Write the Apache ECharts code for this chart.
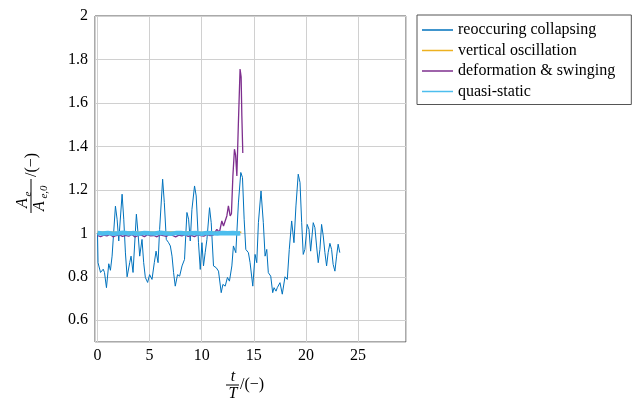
<!DOCTYPE html>
<html>
<head>
<meta charset="utf-8">
<script src="https://cdn.jsdelivr.net/npm/echarts@6/dist/echarts.min.js"></script>
<style>html,body{margin:0;padding:0;background:#fff}#c{width:640px;height:407px}</style>
</head>
<body>
<div id="c"></div>
<script>
// ---- data ----
var seriesNames = ['reoccuring collapsing', 'vertical oscillation', 'deformation & swinging', 'quasi-static'];

var collapseT = [0.00,0.05,0.29,0.55,0.67,0.86,1.08,1.24,1.40,1.72,1.88,2.04,2.36,2.52,2.68,2.84,3.09,3.22,3.41,3.73,3.89,4.05,4.27,4.43,4.59,4.81,5.00,5.23,5.45,5.62,5.81,5.96,6.25,6.41,6.60,6.82,6.99,7.15,7.30,7.46,7.68,7.88,8.11,8.35,8.58,8.74,8.90,9.06,9.31,9.47,9.69,9.86,10.02,10.17,10.33,10.50,10.75,10.91,11.13,11.39,11.61,11.87,12.03,12.25,12.47,12.66,12.89,13.04,13.27,13.52,13.75,13.91,14.07,14.23,14.48,14.64,14.90,15.12,15.28,15.44,15.69,15.91,16.08,16.24,16.39,16.62,16.81,16.94,17.13,17.25,17.51,17.73,17.99,18.21,18.40,18.63,18.85,19.04,19.26,19.43,19.59,19.74,19.90,20.12,20.29,20.45,20.70,20.86,21.02,21.18,21.34,21.50,21.66,21.82,21.98,22.13,22.30,22.46,22.61,22.78,22.94,23.09,23.25];
var collapseA = [1.000,0.865,0.820,0.835,0.820,0.750,0.860,0.830,0.895,1.125,1.065,0.965,1.180,1.065,0.910,0.800,0.865,0.895,0.820,1.088,1.000,0.895,0.972,0.865,0.797,0.774,0.810,0.788,0.865,0.918,0.865,1.018,1.249,1.142,0.972,0.957,0.942,0.895,0.819,0.757,0.810,0.803,0.850,0.880,1.096,1.065,0.965,1.110,1.218,1.172,0.957,0.834,0.957,0.850,0.911,0.972,1.118,1.049,0.850,0.842,0.826,0.727,0.765,0.757,0.797,0.780,0.850,0.942,0.911,1.140,1.280,1.257,1.065,0.926,0.911,0.865,0.757,0.903,0.865,1.049,1.195,1.049,0.895,0.926,0.819,0.803,0.727,0.750,0.734,0.750,0.773,0.720,0.800,0.788,0.926,1.057,0.957,1.126,1.272,1.234,1.049,0.903,0.926,1.041,1.018,0.918,1.049,1.026,0.942,0.865,0.926,1.041,0.988,0.911,0.850,0.911,0.954,0.926,0.857,0.826,0.895,0.950,0.911];

var verticalT = [0,1,2,3,4,5,6,7,8,9,10,11,12,13,13.8];
var verticalA = [1.005,1.006,1.004,1.007,1.005,1.006,1.004,1.006,1.005,1.007,1.004,1.006,1.005,1.006,1.005];

var deformT = [0.0,0.3,0.6,0.9,1.2,1.5,1.8,2.1,2.4,2.7,3.0,3.3,3.6,3.9,4.2,4.5,4.8,5.1,5.4,5.7,6.0,6.3,6.6,6.9,7.2,7.5,7.8,8.1,8.4,8.7,9.0,9.3,9.6,9.9,10.2,10.5,10.8,11.1,11.45,11.7,11.93,12.09,12.25,12.41,12.56,12.73,12.85,12.99,13.14,13.25,13.37,13.52,13.68,13.78,13.85,13.94];
var deformA = [0.990,0.985,0.992,0.988,0.995,0.984,0.990,0.993,0.986,0.991,0.987,0.995,0.983,0.990,0.992,0.985,0.994,0.988,0.990,0.984,0.993,0.989,0.986,0.995,0.990,0.984,0.992,0.988,0.994,0.986,0.991,0.985,0.993,0.990,0.987,0.995,0.989,0.992,1.018,1.005,1.057,1.034,1.030,1.080,1.126,1.080,1.090,1.264,1.387,1.360,1.264,1.510,1.756,1.720,1.540,1.370];

var quasiT = [0,0.5,1,1.5,2,2.5,3,3.5,4,4.5,5,5.5,6,6.5,7,7.5,8,8.5,9,9.5,10,10.5,11,11.5,12,12.5,13,13.5,13.7];
var quasiA = [1.001,0.999,1.002,0.998,1.000,1.003,0.999,1.001,0.998,1.002,1.000,0.999,1.003,1.000,0.998,1.001,1.002,0.999,1.000,1.001,0.998,1.002,1.000,0.999,1.001,1.000,1.002,0.999,1.000];

var xTicks = [0, 5, 10, 15, 20, 25];
var yTicks = [0.6, 0.8, 1, 1.2, 1.4, 1.6, 1.8, 2];

function zip(t, a) { return t.map(function (v, i) { return [v, a[i]]; }); }

var FONT = 'Liberation Serif';
var FS = 16;
var colors = ['#0072BD', '#EDB120', '#7E2F8E', '#4DBEEE'];

var chart = echarts.init(document.getElementById('c'), null, {renderer: 'canvas'});

var option = {
  animation: false,
  backgroundColor: '#fff',
  color: colors,
  grid: {left: 95, top: 16, width: 311, height: 326, show: true, borderColor: '#555', borderWidth: 1, containLabel: false},
  xAxis: {
    type: 'value', min: -0.24, max: 29.6, splitNumber: 6,
    axisLine: {show: false}, axisTick: {show: false},
    axisLabel: {fontFamily: FONT, fontSize: FS, color: '#000', margin: 6, showMinLabel: false, showMaxLabel: false,
      formatter: function (v) { return xTicks.indexOf(Math.round(v * 1000) / 1000) >= 0 ? String(Math.round(v)) : ''; }},
    splitLine: {show: true, lineStyle: {color: '#d0d0d0', width: 1}}
  },
  yAxis: {
    type: 'value', min: 0.5, max: 2, splitNumber: 7,
    axisLine: {show: false}, axisTick: {show: false},
    axisLabel: {fontFamily: FONT, fontSize: FS, color: '#000', margin: 7, showMinLabel: false,
      formatter: function (v) { var r = Math.round(v * 1000) / 1000; return yTicks.indexOf(r) >= 0 ? String(r) : ''; }},
    splitLine: {show: true, lineStyle: {color: '#d0d0d0', width: 1}}
  },
  legend: {
    orient: 'vertical', left: 417, top: 15,
    data: seriesNames,
    icon: 'rect', itemWidth: 31, itemHeight: 1.5, itemGap: 0.5,
    padding: [5, 16, 3, 5],
    borderColor: '#555', borderWidth: 1, borderRadius: 0,
    textStyle: {fontFamily: FONT, fontSize: FS, color: '#000', lineHeight: 20}
  },
  series: [
    {name: seriesNames[0], type: 'line', data: zip(collapseT, collapseA), showSymbol: false, lineStyle: {width: 1}, z: 2},
    {name: seriesNames[1], type: 'line', data: zip(verticalT, verticalA), showSymbol: false, lineStyle: {width: 1.5}, z: 3},
    {name: seriesNames[2], type: 'line', data: zip(deformT, deformA), showSymbol: false, lineStyle: {width: 1.3}, z: 4},
    {name: seriesNames[3], type: 'line', data: zip(quasiT, quasiA), showSymbol: false, lineStyle: {width: 4.5}, z: 5}
  ],
  graphic: [
    // y axis title (rotated)
    {type: 'group', x: 31, y: 181, rotation: Math.PI / 2, children: [
      {type: 'text', x: -22, y: -8, style: {text: 'A', font: 'italic 16px ' + FONT, fill: '#000', align: 'center', verticalAlign: 'middle'}},
      {type: 'text', x: -13, y: -3, style: {text: 'e', font: 'italic 11px ' + FONT, fill: '#000', align: 'center', verticalAlign: 'middle'}},
      {type: 'rect', shape: {x: -32, y: -0.5, width: 34, height: 1}, style: {fill: '#000'}},
      {type: 'text', x: -25, y: 9, style: {text: 'A', font: 'italic 16px ' + FONT, fill: '#000', align: 'center', verticalAlign: 'middle'}},
      {type: 'text', x: -11, y: 13, style: {text: 'e,0', font: 'italic 11px ' + FONT, fill: '#000', align: 'center', verticalAlign: 'middle'}},
      {type: 'text', x: 4, y: 1, style: {text: '/(\u2212)', font: '16px ' + FONT, fill: '#000', align: 'left', verticalAlign: 'middle'}}
    ]},
    // x axis title
    {type: 'group', x: 250, y: 385, children: [
      {type: 'text', x: -17, y: -8, style: {text: 't', font: 'italic 16px ' + FONT, fill: '#000', align: 'center', verticalAlign: 'middle'}},
      {type: 'rect', shape: {x: -24, y: -0.5, width: 13, height: 1}, style: {fill: '#000'}},
      {type: 'text', x: -17, y: 9, style: {text: 'T', font: 'italic 16px ' + FONT, fill: '#000', align: 'center', verticalAlign: 'middle'}},
      {type: 'text', x: -10, y: 0, style: {text: '/(\u2212)', font: '16px ' + FONT, fill: '#000', align: 'left', verticalAlign: 'middle'}}
    ]}
  ]
};
chart.setOption(option);
</script>
</body>
</html>
